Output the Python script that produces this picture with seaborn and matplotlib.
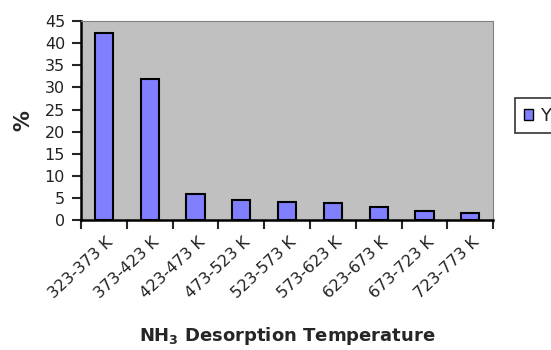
import matplotlib
matplotlib.use("Agg")
import matplotlib.pyplot as plt
import matplotlib.transforms as mtransforms
import seaborn as sns
import pandas as pd
import numpy as np
from matplotlib.ticker import FixedLocator, MultipleLocator

categories = ["323-373 K", "373-423 K", "423-473 K", "473-523 K", "523-573 K",
              "573-623 K", "623-673 K", "673-723 K", "723-773 K"]
values = [42.4, 31.9, 6.0, 4.6, 4.2, 3.8, 2.9, 2.0, 1.6]
series_name = "Y"

df = pd.DataFrame({"cat": categories, "val": values, "series": series_name})

sns.set_style("white")
plt.rcParams['font.family'] = ['DejaVu Sans']

fig = plt.figure(figsize=(5.51, 3.5), dpi=100)
ax = fig.add_axes([0.147, 0.371, 0.748, 0.569])
ax.set_facecolor("#C0C0C0")

sns.barplot(data=df, x="cat", y="val", hue="series", palette=["#8080FF"],
            saturation=1, width=0.4, edgecolor="black", linewidth=1.5, ax=ax,
            legend=True)

ax.set_ylim(0, 45)
ax.set_xlim(-0.5, len(categories) - 0.5)
ax.yaxis.set_major_locator(MultipleLocator(5))
ax.tick_params(axis="y", direction="out", length=6.5, width=1.5, labelsize=11.5,
               pad=5, left=True, labelcolor="#222222")
ax.tick_params(axis="x", which="major", length=0, labelsize=11.5, pad=14,
               labelcolor="#222222")
ax.xaxis.set_minor_locator(FixedLocator(np.arange(-0.5, len(categories), 1.0)))
ax.tick_params(axis="x", which="minor", direction="out", length=6.5, width=1.5, bottom=True)
offset = mtransforms.ScaledTranslation(7 / 100, 0, fig.dpi_scale_trans)
for lbl in ax.get_xticklabels():
    lbl.set_rotation(43)
    lbl.set_ha("right")
    lbl.set_va("center")
    lbl.set_rotation_mode("anchor")
    lbl.set_transform(lbl.get_transform() + offset)

for s in ["left", "bottom"]:
    ax.spines[s].set_color("black")
    ax.spines[s].set_linewidth(1.8)
for s in ["top", "right"]:
    ax.spines[s].set_color("#808080")
    ax.spines[s].set_linewidth(0.8)

ax.set_ylabel("%", fontsize=15, fontweight="bold", labelpad=8)
ax.set_xlabel("NH$_\\mathbf{3}$ Desorption Temperature", fontsize=13, fontweight="bold",
              labelpad=17)

leg = ax.legend(loc="center left", bbox_to_anchor=(1.054, 0.525), frameon=True,
                fancybox=False, edgecolor="black", fontsize=13, handlelength=0.55,
                handleheight=0.55, handletextpad=0.35, borderpad=0.45, labelspacing=0.2,
                borderaxespad=0)
leg.get_frame().set_linewidth(1.2)
for t in leg.get_texts():
    t.set_color("#222222")
for h in leg.legend_handles:
    h.set_edgecolor("black")
    h.set_linewidth(1.0)

fig.savefig("out.png", dpi=100)
